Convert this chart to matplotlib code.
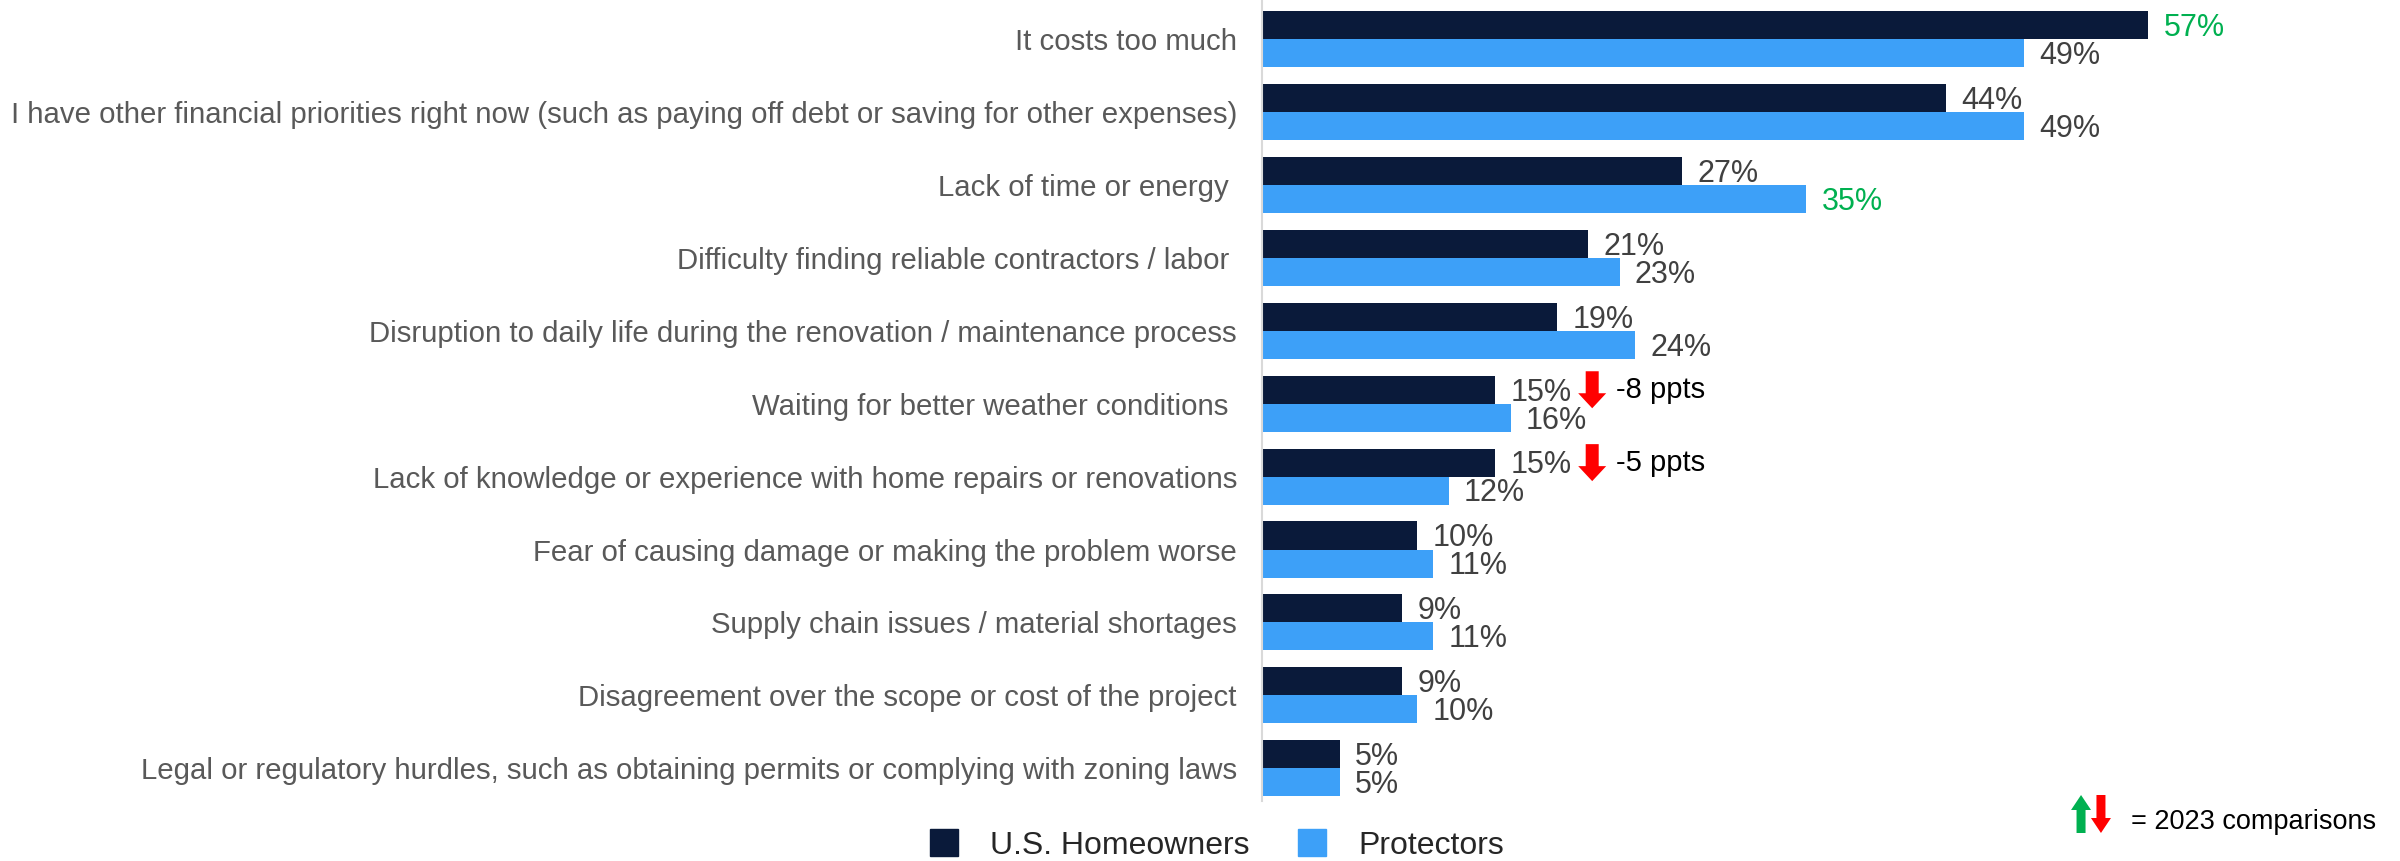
import matplotlib
matplotlib.use("Agg")
import matplotlib.pyplot as plt
import numpy as np
from matplotlib.patches import Patch, Polygon
from matplotlib.transforms import Affine2D, ScaledTranslation

plt.rcParams["font.family"] = ["Liberation Sans", "DejaVu Sans"]

CATEGORIES = [
    "It costs too much",
    "I have other financial priorities right now (such as paying off debt or saving for other expenses)",
    "Lack of time or energy ",
    "Difficulty finding reliable contractors / labor ",
    "Disruption to daily life during the renovation / maintenance process",
    "Waiting for better weather conditions ",
    "Lack of knowledge or experience with home repairs or renovations",
    "Fear of causing damage or making the problem worse",
    "Supply chain issues / material shortages",
    "Disagreement over the scope or cost of the project",
    "Legal or regulatory hurdles, such as obtaining permits or complying with zoning laws",
]
HOMEOWNERS = [57, 44, 27, 21, 19, 15, 15, 10, 9, 9, 5]
PROTECTORS = [49, 49, 35, 23, 24, 16, 12, 11, 11, 10, 5]
# labels shown in green (notable differences)
HOMEOWNERS_GREEN = [True, False, False, False, False, False, False, False, False, False, False]
PROTECTORS_GREEN = [False, False, True, False, False, False, False, False, False, False, False]
# change vs 2023 for U.S. homeowners (row index -> text)
CHANGE_ROWS = [5, 6]
CHANGE_TEXT = ["-8 ppts", "-5 ppts"]

DARK = "#0A1A3A"
LIGHT = "#3DA0F8"
LABEL_GRAY = "#595959"
VALUE_GRAY = "#404040"
GREEN = "#00B050"
RED = "#FF0000"

BAR_H = 0.385


def arrow_verts(shaft_w, head_w, total_h, head_h, down=True):
    top, bot = total_h / 2, -total_h / 2
    v = [
        (-shaft_w / 2, top),
        (shaft_w / 2, top),
        (shaft_w / 2, bot + head_h),
        (head_w / 2, bot + head_h),
        (0, bot),
        (-head_w / 2, bot + head_h),
        (-shaft_w / 2, bot + head_h),
    ]
    if not down:
        v = [(x, -y) for x, y in v]
    return v


fig = plt.figure(figsize=(24, 8.61), dpi=100)
ax = fig.add_axes([1262 / 2400, 1 - 801 / 861, 1 - 1262 / 2400, 801 / 861])

y = np.arange(len(CATEGORIES))
ax.barh(y - BAR_H / 2, HOMEOWNERS, height=BAR_H, color=DARK)
ax.barh(y + BAR_H / 2, PROTECTORS, height=BAR_H, color=LIGHT)

ax.set_xlim(0, 73.2)
ax.set_ylim(10.45, -0.54)
ax.set_xticks([])
ax.set_yticks(y)
ax.set_yticklabels(CATEGORIES, fontsize=21.2, color=LABEL_GRAY)
ax.tick_params(axis="y", length=0, pad=18)
for side in ["top", "right", "bottom"]:
    ax.spines[side].set_visible(False)
ax.spines["left"].set_color("#D9D9D9")
ax.spines["left"].set_linewidth(1.5)

for i in range(len(CATEGORIES)):
    ax.annotate(f"{HOMEOWNERS[i]}%", (HOMEOWNERS[i], i - BAR_H / 2), xytext=(11, -2),
                textcoords="offset points", va="center", ha="left", fontsize=22,
                color=GREEN if HOMEOWNERS_GREEN[i] else VALUE_GRAY)
    ax.annotate(f"{PROTECTORS[i]}%", (PROTECTORS[i], i + BAR_H / 2), xytext=(11, -2),
                textcoords="offset points", va="center", ha="left", fontsize=22,
                color=GREEN if PROTECTORS_GREEN[i] else VALUE_GRAY)

# red arrows + change text next to homeowner labels
for row, txt in zip(CHANGE_ROWS, CHANGE_TEXT):
    val = HOMEOWNERS[row]
    yy = row - BAR_H / 2
    tr = Affine2D().translate(97, 0) + ScaledTranslation(val, yy, ax.transData)
    fig.add_artist(Polygon(arrow_verts(13, 28, 37, 15, down=True), closed=True,
                           facecolor=RED, edgecolor="none", transform=tr))
    ax.annotate(txt, (val, yy), xytext=(121 * 0.72, 0), textcoords="offset points",
                va="center", ha="left", fontsize=21, color="black")

# legend
handles = [Patch(color=DARK, label="U.S. Homeowners"), Patch(color=LIGHT, label="Protectors")]
fig.legend(handles=handles, loc="lower center", bbox_to_anchor=(0.507, -0.033), ncol=2,
           frameon=False, fontsize=23, handlelength=0.9, handleheight=0.9,
           handletextpad=1.0, columnspacing=1.5, labelcolor="#262626")

# footnote: 2023 comparison key
for cx, color, down in [(0.8671, GREEN, False), (0.8754, RED, True)]:
    tr = ScaledTranslation(cx, 47 / 861, fig.transFigure)
    fig.add_artist(Polygon(arrow_verts(9, 20, 38, 15, down=down), closed=True,
                           facecolor=color, edgecolor="none", transform=Affine2D() + tr))
fig.text(2131 / 2400, 39 / 861, "= 2023 comparisons", fontsize=19.5, color="black",
         ha="left", va="center")

fig.savefig("out.png", dpi=100)
